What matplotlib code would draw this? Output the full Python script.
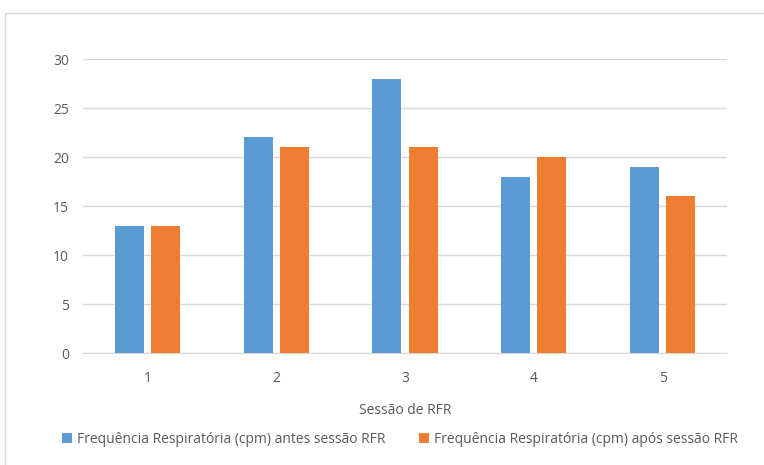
import matplotlib
matplotlib.use("Agg")
import matplotlib.pyplot as plt
import numpy as np
from matplotlib.patches import Rectangle

plt.rcParams['font.family'] = ['Open Sans', 'DejaVu Sans']

sessions = ["1", "2", "3", "4", "5"]
antes = [13, 22, 28, 18, 19]
apos = [13, 21, 21, 20, 16]
label_antes = "Frequência Respiratória (cpm) antes sessão RFR"
label_apos = "Frequência Respiratória (cpm) após sessão RFR"

BLUE = "#5B9BD5"
ORANGE = "#ED7D31"
TEXT = "#595959"
GRID = "#D9D9D9"

W, H = 764, 465
fig = plt.figure(figsize=(W / 100, H / 100), dpi=100)
fig.patch.set_facecolor("white")

# outer chart frame
fig.patches.append(Rectangle((5 / W, -0.01), 1.0, 1 - 13 / H + 0.01,
                             transform=fig.transFigure, fill=False,
                             edgecolor="#D9D9D9", linewidth=1.0))

ax = fig.add_axes([83 / W, 1 - 353 / H, (727 - 83) / W, (353 - 59) / H])

x = np.arange(len(sessions))
bw = 0.225
gap = 0.055
ax.bar(x - (bw + gap) / 2, antes, bw, color=BLUE, label=label_antes, zorder=3)
ax.bar(x + (bw + gap) / 2, apos, bw, color=ORANGE, label=label_apos, zorder=3)

ax.set_xlim(-0.5, len(sessions) - 0.5)
ax.set_ylim(0, 30)
ax.set_yticks(range(0, 31, 5))
ax.set_xticks(x)
ax.set_xticklabels(sessions)
ax.yaxis.grid(True, color=GRID, linewidth=1.0, zorder=0)
ax.set_axisbelow(True)

for s in ["top", "right", "left"]:
    ax.spines[s].set_visible(False)
ax.spines["bottom"].set_color(GRID)
ax.tick_params(axis="both", length=0, colors=TEXT, labelsize=10)
ax.tick_params(axis="x", pad=13)
ax.tick_params(axis="y", pad=10)

ax.set_xlabel("Sessão de RFR", color=TEXT, fontsize=10, labelpad=12)

leg = fig.legend(loc="center", bbox_to_anchor=(400 / W, 1 - 439 / H), ncol=2,
                 frameon=False, fontsize=10, handlelength=0.7, handleheight=0.7,
                 handletextpad=0.4, columnspacing=2.4, labelcolor=TEXT)

fig.savefig("out.png", dpi=100, facecolor="white")
